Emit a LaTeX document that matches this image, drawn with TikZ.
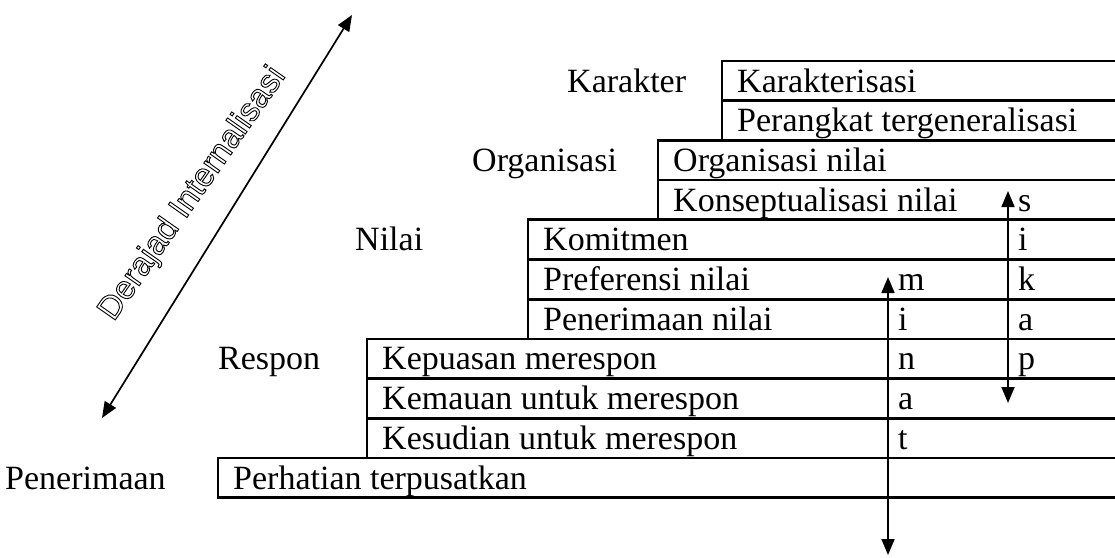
\documentclass[tikz,border=0pt]{standalone}
\usepackage{fontspec}
\setmainfont{Liberation Serif}
\newfontfamily\arialfont{Liberation Sans}
\usetikzlibrary{arrows.meta}
\newcommand{\hollowtext}[1]{\special{pdf:literal direct 1 Tr 0.9 w}#1\special{pdf:literal direct 0 Tr}}
\tikzset{
  cell/.style={draw=black, line width=2.7pt},
  txt/.style={anchor=base west, inner sep=0pt, font=\fontsize{34}{40}\selectfont},
  lvl/.style={anchor=base west, inner sep=0pt, font=\fontsize{34}{40}\selectfont},
  dbl/.style={line width=1.7pt, {Triangle[length=16pt,width=13pt]}-{Triangle[length=16pt,width=13pt]}}
}
\begin{document}
\begin{tikzpicture}[x=1pt,y=-1pt]
\useasboundingbox (0,0) rectangle (1115,557);
% row boxes (open to the right edge)
\draw[cell] (722,61)    rectangle (1130,100.7);
\draw[cell] (722,100.7) rectangle (1130,140.4);
\draw[cell] (658,140.4) rectangle (1130,180.1);
\draw[cell] (658,180.1) rectangle (1130,219.8);
\draw[cell] (528,219.8) rectangle (1130,259.5);
\draw[cell] (528,259.5) rectangle (1130,299.2);
\draw[cell] (528,299.2) rectangle (1130,338.9);
\draw[cell] (367,338.9) rectangle (1130,378.6);
\draw[cell] (367,378.6) rectangle (1130,418.3);
\draw[cell] (367,418.3) rectangle (1130,458);
\draw[cell] (218,458)   rectangle (1130,497.7);
% row texts
\node[txt] (r0)  at (737,92)    {Karakterisasi};
\node[txt] (r1)  at (737,131.7) {Perangkat tergeneralisasi};
\node[txt] (r2)  at (673,171.4) {Organisasi nilai};
\node[txt] (r3)  at (673,211.1) {Konseptualisasi nilai};
\node[txt] (r4)  at (543,250.8) {Komitmen};
\node[txt] (r5)  at (543,290.5) {Preferensi nilai};
\node[txt] (r6)  at (543,330.2) {Penerimaan nilai};
\node[txt] (r7)  at (382,369.9) {Kepuasan merespon};
\node[txt] (r8)  at (382,409.6) {Kemauan untuk merespon};
\node[txt] (r9)  at (382,449.3) {Kesudian untuk merespon};
\node[txt] (r10) at (233,489)   {Perhatian terpusatkan};
% level labels
\node[lvl] (lk) at (567,92)    {Karakter};
\node[lvl] (lo) at (472,171.4) {Organisasi};
\node[lvl] (ln) at (355,250.8) {Nilai};
\node[lvl] (lr) at (218,369.9) {Respon};
\node[lvl] (lp) at (5,489)     {Penerimaan};
% minat letters
\node[txt] (m1) at (898,290.5) {m};
\node[txt] (m2) at (898,330.2) {i};
\node[txt] (m3) at (898,369.9) {n};
\node[txt] (m4) at (898,409.6) {a};
\node[txt] (m5) at (898,449.3) {t};
% sikap letters
\node[txt] (s1) at (1018,211.1) {s};
\node[txt] (s2) at (1018,250.8) {i};
\node[txt] (s3) at (1018,290.5) {k};
\node[txt] (s4) at (1018,330.2) {a};
\node[txt] (s5) at (1018,369.9) {p};
% vertical arrows
\coordinate (mtop) at (888,277);
\coordinate (mbot) at (888,555);
\coordinate (stop) at (1008,191);
\coordinate (sbot) at (1008,403);
\draw[dbl] (mbot) -- (mtop);
\draw[dbl] (sbot) -- (stop);
% diagonal arrow
\coordinate (dlo) at (102,418);
\coordinate (dhi) at (352,15);
\draw[dbl] (dlo) -- (dhi);
\node[inner sep=0pt, rotate=55, font=\arialfont\fontsize{33}{36}\selectfont] (dtext) at (193,194) {\hollowtext{Derajad Internalisasi}};
\end{tikzpicture}
\end{document}
